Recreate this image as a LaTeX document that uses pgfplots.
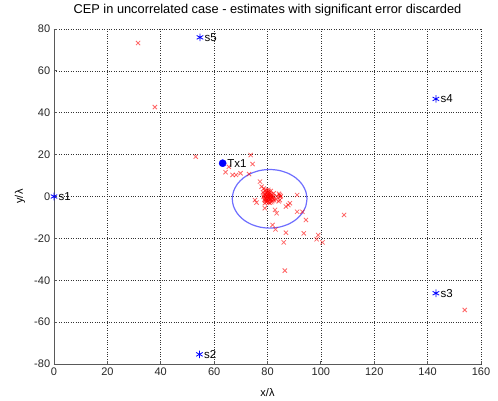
\documentclass[border=0pt]{standalone}
\usepackage{fontspec}
\setmainfont{Liberation Sans}
\usepackage{pgfplots}
\pgfplotsset{compat=1.18}
\definecolor{cepblue}{RGB}{110,110,255}
\begin{document}
\fontsize{11bp}{13bp}\selectfont
\begin{tikzpicture}
\begin{axis}[
  scale only axis, width=427bp, height=335bp,
  xmin=0, xmax=160, ymin=-80, ymax=80,
  xtick={0,20,...,160}, ytick={-80,-60,...,80},
  axis x line*=bottom, axis y line*=left,
  axis line style={black!65, line width=0.9bp, -},
  tick align=inside, major tick length=3.5bp,
  tick style={black!65, line width=0.8bp},
  grid=major,
  major grid style={black!80, dotted, line width=0.6bp},
  /pgf/number format/assume math mode=true,
  tick label style={font=\fontsize{11bp}{13bp}\selectfont, black!85},
  title={CEP in uncorrelated case - estimates with significant error discarded},
  title style={at={(axis description cs:0.5,1)}, anchor=base, yshift=10bp, font=\fontsize{12.8bp}{14bp}\selectfont},
  xlabel={x/λ},
  xlabel style={at={(axis description cs:0.5,-0.0866)}, anchor=center},
  ylabel={y/λ},
  ylabel style={at={(axis description cs:-0.0796,0.5)}, anchor=center},
  clip=false,
]
% estimates
\addplot[only marks, mark=x, mark size=3bp, red, mark options={line width=0.8bp, opacity=0.6}] coordinates {
(80,0) (80.5,-0.5) (79.5,0.5) (81,0.3) (79,-0.8) (80.2,1.2) (81.3,-1.2) (79.8,-1.5)
(80.7,1.8) (78.8,1.0) (81.6,0.8) (80,-2.3) (79.2,-2.0) (81.8,-2.2) (80.4,2.5) (78.5,-0.2)
(82,-0.5) (79.6,3.0) (80.9,-3.0) (78.3,2.0) (81.2,2.6) (82.3,1.5) (79,-3.2) (82.5,-1.8)
(80.3,-1.0) (79.9,0.2) (80.6,0.9) (81.5,-0.2) (78.9,-1.6) (80.1,-0.4)
(80.2,0.5) (79.7,-0.3) (80.8,-1.6) (81.1,1.1) (79.4,1.6) (80.5,-2.8) (79.3,-1.1) (81.9,0.2)
(80.0,1.9) (80.9,-0.9) (79.6,-2.6) (81.4,-2.7) (78.7,0.4) (82.1,-1.1) (80.3,3.2) (79.1,2.6)
(84.6,0.7) (84.8,-0.2) (84.3,1.3) (85,0.2) (84.6,-1.7) (84.2,-2.3) (83.5,0.1) (83.2,-1.4)
(77.2,7.1) (77.8,4.7) (78.6,3.8) (75.3,-1.7) (75.9,-2.9)
(79,-5.6) (82.8,-6.4) (83.4,-8.0) (88.4,-3.2) (87.8,-4.1) (86.9,-4.8)
(91.1,0.7) (91.1,-7.3) (93.1,-7.3) (94.4,-11.2) (81.9,-13.6) (83,-15.7)
(86.9,-17.3) (93.6,-17.6) (99,-18.4) (98.4,-20.4) (100.6,-21.9) (86.1,-21.9)
(86.5,-35.4) (108.7,-8.8) (153.9,-54.2) (31.5,73.3) (37.8,42.7) (53.1,19.0)
(73.7,19.8) (74.4,15.5) (64.3,11.6) (65.5,14.2) (66.9,10.3) (68.2,10.3)
(69.9,11.1) (73.1,10.7)
};
% CEP circle (r = 14, centre (80.8,-1.1))
\addplot[cepblue, line width=1.2bp, smooth] coordinates {
(94.8,-1.1) (94.32,2.52) (92.92,5.9) (90.70,8.80) (87.8,11.02) (84.42,12.42)
(80.8,12.9) (77.18,12.42) (73.8,11.02) (70.90,8.80) (68.68,5.9) (67.28,2.52)
(66.8,-1.1) (67.28,-4.72) (68.68,-8.1) (70.90,-11.0) (73.8,-13.22) (77.18,-14.62)
(80.8,-15.1) (84.42,-14.62) (87.8,-13.22) (90.70,-11.0) (92.92,-8.1) (94.32,-4.72)
(94.8,-1.1)
};
% sensors
\addplot[only marks, mark=asterisk, blue, mark size=3.8bp, mark options={line width=0.8bp},
  nodes near coords, point meta=explicit symbolic,
  every node near coord/.append style={anchor=west, inner sep=0bp, xshift=4.2bp, black, font=\fontsize{11.5bp}{13bp}\selectfont}]
table[meta=label] {
x y label
0 0 s1
54.5 -75.4 s2
143.1 -46.2 s3
143.1 46.6 s4
54.7 76.0 s5
};
% transmitter
\addplot[only marks, mark=*, blue, mark size=3.6bp,
  nodes near coords, point meta=explicit symbolic,
  every node near coord/.append style={anchor=west, inner sep=0bp, xshift=4.5bp, black, font=\fontsize{11.5bp}{13bp}\selectfont}]
table[meta=label] {
x y label
63.2 15.9 Tx1
};
\end{axis}
\path ([xshift=-54bp,yshift=-37bp]current axis.south west) rectangle ([xshift=17bp,yshift=29bp]current axis.north east);
\end{tikzpicture}
\end{document}
